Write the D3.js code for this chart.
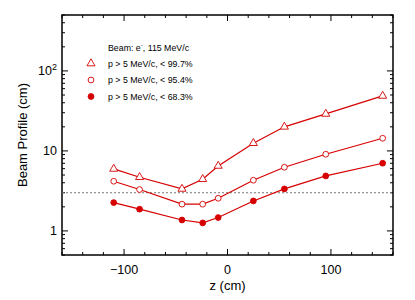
<!DOCTYPE html>
<html>
<head>
<meta charset="utf-8">
<script src="https://cdn.jsdelivr.net/npm/d3@7"></script>
<style>
  body { margin: 0; background: #fff; }
  text { font-family: "Liberation Sans", Arial, sans-serif; }
</style>
</head>
<body>
<svg id="chart"></svg>
<script>
// Data
const zValues = [-110, -85, -44, -24, -9, 25, 55, 95, 150];
const profile997 = [5.96, 4.69, 3.35, 4.43, 6.49, 12.5, 20.0, 29.0, 48.7];
const profile954 = [4.18, 3.29, 2.16, 2.16, 2.56, 4.30, 6.25, 9.09, 14.4];
const profile683 = [2.26, 1.87, 1.37, 1.26, 1.47, 2.37, 3.35, 4.87, 7.02];
const refLine = 3;
const xTicks = [-100, 0, 100];
const yTicks = [1, 10, 100];
const legendLabels = ["p > 5 MeV/c, < 99.7%", "p > 5 MeV/c, < 95.4%", "p > 5 MeV/c, < 68.3%"];

const width = 415, height = 300;
const margin = { top: 15, right: 22, bottom: 45, left: 62 };
const red = "#d60000";

const svg = d3.select("#chart")
    .attr("width", width)
    .attr("height", height);

const x = d3.scaleLinear()
    .domain([-160, 160])
    .range([margin.left, width - margin.right]);

const y = d3.scaleLog()
    .domain([0.5, 500])
    .range([height - margin.bottom, margin.top]);

const x0 = margin.left, x1 = width - margin.right;
const y0 = height - margin.bottom, y1 = margin.top;

// Tick marks on all four sides, pointing inward
const ticks = svg.append("g").attr("stroke", "#000").attr("stroke-width", 1);

const xMinor = d3.range(-160, 161, 20);
xMinor.forEach(v => {
    const len = xTicks.includes(v) ? 6 : 3;
    ticks.append("line").attr("x1", x(v)).attr("x2", x(v)).attr("y1", y0).attr("y2", y0 - len);
    ticks.append("line").attr("x1", x(v)).attr("x2", x(v)).attr("y1", y1).attr("y2", y1 + len);
});

const yMinor = [];
[0.1, 1, 10, 100].forEach(d => {
    for (let k = 1; k <= 9; k++) {
        const v = d * k;
        if (v >= 0.5 && v <= 500) yMinor.push(v);
    }
});
yMinor.forEach(v => {
    const len = yTicks.some(t => Math.abs(t - v) < 1e-9) ? 6 : 3;
    ticks.append("line").attr("x1", x0).attr("x2", x0 + len).attr("y1", y(v)).attr("y2", y(v));
    ticks.append("line").attr("x1", x1).attr("x2", x1 - len).attr("y1", y(v)).attr("y2", y(v));
});

// Frame
svg.append("rect")
    .attr("x", x0).attr("y", y1)
    .attr("width", x1 - x0).attr("height", y0 - y1)
    .attr("fill", "none").attr("stroke", "#000").attr("stroke-width", 1.5);

// Tick labels
svg.append("g").selectAll("text")
    .data(xTicks)
    .join("text")
    .attr("x", d => x(d))
    .attr("y", y0 + 18.5)
    .attr("text-anchor", "middle")
    .attr("font-size", 12.5)
    .text(d => d < 0 ? "\u2212" + Math.abs(d) : d);

const yLab = svg.append("g").selectAll("text")
    .data(yTicks)
    .join("text")
    .attr("x", x0 - 5)
    .attr("y", d => y(d) + 4.5)
    .attr("text-anchor", "end")
    .attr("font-size", 12.5);
yLab.each(function(d) {
    const t = d3.select(this);
    if (d === 100) {
        t.append("tspan").text("10");
        t.append("tspan").attr("font-size", 9).attr("dy", -5).text("2");
    } else {
        t.text(d);
    }
});

// Axis titles
svg.append("text")
    .attr("x", x(0))
    .attr("y", 290)
    .attr("text-anchor", "middle")
    .attr("font-size", 13)
    .text("z (cm)");

svg.append("text")
    .attr("transform", `translate(27,${(y0 + y1) / 2}) rotate(-90)`)
    .attr("text-anchor", "middle")
    .attr("font-size", 13)
    .text("Beam Profile (cm)");

// Dashed reference line
svg.append("line")
    .attr("x1", x0).attr("x2", x1)
    .attr("y1", y(refLine)).attr("y2", y(refLine))
    .attr("stroke", "#777").attr("stroke-width", 1)
    .attr("stroke-dasharray", "2,2");

// Series
const line = d3.line()
    .x(d => x(d[0]))
    .y(d => y(d[1]));

const series = [profile997, profile954, profile683];
const kinds = ["triangle", "circle", "dot"];

function drawMarker(g, kind, cx, cy) {
    if (kind === "triangle") {
        g.append("path")
            .attr("d", d3.symbol(d3.symbolTriangle, 28)())
            .attr("transform", `translate(${cx},${cy})`)
            .attr("fill", "#fff").attr("stroke", red).attr("stroke-width", 0.9);
    } else {
        g.append("circle")
            .attr("cx", cx).attr("cy", cy).attr("r", 2.9)
            .attr("fill", kind === "dot" ? red : "#fff")
            .attr("stroke", red).attr("stroke-width", 0.9);
    }
}

series.forEach((vals, i) => {
    const pts = zValues.map((z, j) => [z, vals[j]]);
    svg.append("path")
        .attr("d", line(pts))
        .attr("fill", "none")
        .attr("stroke", red)
        .attr("stroke-width", 1.2);
    const g = svg.append("g");
    pts.forEach(p => drawMarker(g, kinds[i], x(p[0]), y(p[1])));
});

// Legend
const legend = svg.append("g");
const title = legend.append("text")
    .attr("x", 108).attr("y", 50.5)
    .attr("font-size", 8.8);
title.append("tspan").text("Beam: e");
title.append("tspan").attr("font-size", 6).attr("dy", -3.5).text("-");
title.append("tspan").attr("dy", 3.5).text(", 115 MeV/c");

legendLabels.forEach((lab, i) => {
    const ly = 63.5 + i * 16.5;
    drawMarker(legend, kinds[i], 91, ly);
    legend.append("text")
        .attr("x", 108).attr("y", ly + 3.2)
        .attr("font-size", 8.8)
        .text(lab);
});
</script>
</body>
</html>
